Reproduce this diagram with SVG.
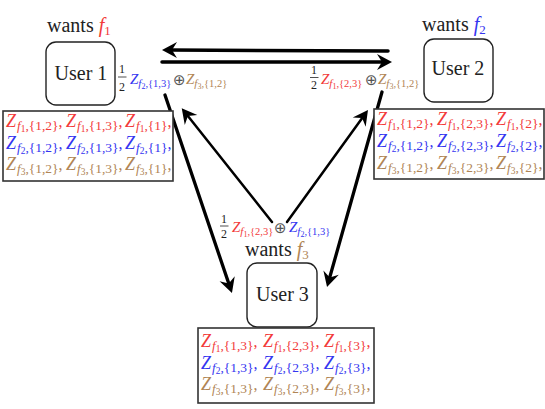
<svg xmlns="http://www.w3.org/2000/svg" width="545" height="409" viewBox="0 0 545 409">
<style>
.t{font-family:"Liberation Serif","DejaVu Serif",serif}
.n{font-size:20px;fill:#222}
.Z{font-style:italic;font-size:18px}
.s{font-size:13.5px}
.si{font-style:italic;font-size:13px}
.ss{font-size:9.5px}
.c{font-size:16px}
.Zl{font-style:italic;font-size:15px}
.sl{font-size:10.5px}
.sil{font-style:italic;font-size:11px}
.ssl{font-size:8px}
.fr{font-size:12px;fill:#222}
.op{font-family:"DejaVu Sans",sans-serif;font-size:15px;fill:#555}
.r{fill:#f23a3a}
.b{fill:#3535f0}
.w{fill:#b08555}
.box{fill:#fff;stroke:#222;stroke-width:1.4}
.tab{fill:#fff;stroke:#333;stroke-width:1.6}
.ar{fill:none;stroke:#000;stroke-linecap:round}
</style>
<defs>
<marker id="ah" viewBox="-16 -9 18 18" refX="-8" refY="0" markerWidth="18" markerHeight="18" markerUnits="userSpaceOnUse" orient="auto" overflow="visible">
<path d="M0,0 L-15,-8 L-10,0 L-15,8 Z" fill="#000"/>
</marker>
</defs>
<rect width="545" height="409" fill="#fff"/>

<g id="connectors">
<line class="ar" x1="388" y1="51" x2="170" y2="50" stroke-width="3.5" marker-end="url(#ah)"/>
<line class="ar" x1="162" y1="62" x2="384" y2="62" stroke-width="3.5" marker-end="url(#ah)"/>
<line class="ar" x1="165" y1="95" x2="229.4" y2="285.4" stroke-width="3.3" marker-end="url(#ah)"/>
<line class="ar" x1="272" y1="222" x2="186.7" y2="114.5" stroke-width="2.5" marker-end="url(#ah)"/>
<line class="ar" x1="287" y1="222" x2="363.3" y2="116.5" stroke-width="2.5" marker-end="url(#ah)"/>
<line class="ar" x1="382" y1="92" x2="329.2" y2="279.3" stroke-width="3.3" marker-end="url(#ah)"/>
</g>

<g id="user1">
<text class="t n" x="47" y="32">wants <tspan class="r" font-style="italic">f</tspan><tspan class="r" font-size="13px" dy="3">1</tspan></text>
<rect class="box" x="46" y="42" width="69" height="63" rx="10"/>
<text class="t n" x="81" y="80" text-anchor="middle">User 1</text>
</g>

<g id="user2">
<text class="t n" x="422" y="31">wants <tspan class="b" font-style="italic">f</tspan><tspan class="b" font-size="13px" dy="3">2</tspan></text>
<rect class="box" x="424" y="39" width="69" height="63" rx="10"/>
<text class="t n" x="458" y="75" text-anchor="middle">User 2</text>
</g>

<g id="user3">
<text class="t n" x="245" y="256">wants <tspan class="w" font-style="italic">f</tspan><tspan class="w" font-size="13px" dy="3">3</tspan></text>
<rect class="box" x="247" y="263" width="70" height="64" rx="10"/>
<text class="t n" x="282.5" y="301" text-anchor="middle">User 3</text>
</g>

<g id="label1">
<text class="t fr" x="122" y="73" text-anchor="middle">1</text>
<line x1="118" y1="77" x2="126.5" y2="77" stroke="#222" stroke-width="0.8"/>
<text class="t fr" x="122" y="91" text-anchor="middle">2</text>
<text class="t b" x="130" y="84"><tspan class="Zl">Z</tspan><tspan class="sil" dy="3">f</tspan><tspan class="ssl" dy="1.5">2</tspan><tspan class="sl" dy="-1.5">,{1,3}</tspan></text>
<text class="op" x="173" y="85">⊕</text>
<text class="t w" x="186" y="84"><tspan class="Zl">Z</tspan><tspan class="sil" dy="3">f</tspan><tspan class="ssl" dy="1.5">3</tspan><tspan class="sl" dy="-1.5">,{1,2}</tspan></text>
</g>

<g id="label2">
<text class="t fr" x="314" y="74" text-anchor="middle">1</text>
<line x1="310" y1="77.5" x2="318.5" y2="77.5" stroke="#222" stroke-width="0.8"/>
<text class="t fr" x="314" y="89" text-anchor="middle">2</text>
<text class="t r" x="321" y="84"><tspan class="Zl">Z</tspan><tspan class="sil" dy="3">f</tspan><tspan class="ssl" dy="1.5">1</tspan><tspan class="sl" dy="-1.5">,{2,3}</tspan></text>
<text class="op" x="365" y="85">⊕</text>
<text class="t w" x="378" y="84"><tspan class="Zl">Z</tspan><tspan class="sil" dy="3">f</tspan><tspan class="ssl" dy="1.5">3</tspan><tspan class="sl" dy="-1.5">,{1,2}</tspan></text>
</g>

<g id="label3">
<text class="t fr" x="224" y="223" text-anchor="middle">1</text>
<line x1="220" y1="226" x2="228.5" y2="226" stroke="#222" stroke-width="0.8"/>
<text class="t fr" x="224" y="238" text-anchor="middle">2</text>
<text class="t r" x="232" y="232"><tspan class="Zl">Z</tspan><tspan class="sil" dy="3">f</tspan><tspan class="ssl" dy="1.5">1</tspan><tspan class="sl" dy="-1.5">,{2,3}</tspan></text>
<text class="op" x="274" y="233">⊕</text>
<text class="t b" x="289" y="232"><tspan class="Zl">Z</tspan><tspan class="sil" dy="3">f</tspan><tspan class="ssl" dy="1.5">2</tspan><tspan class="sl" dy="-1.5">,{1,3}</tspan></text>
</g>

<g id="table1">
<rect class="tab" x="3" y="111" width="170" height="70"/>
<text class="t r" x="6" y="127"><tspan class="Z">Z</tspan><tspan class="si" dx="1" dy="3">f</tspan><tspan class="ss" dy="2">1</tspan><tspan class="s" dy="-2">,{1,2}</tspan><tspan class="c" dy="-3">,</tspan></text>
<text class="t r" x="66" y="127"><tspan class="Z">Z</tspan><tspan class="si" dx="1" dy="3">f</tspan><tspan class="ss" dy="2">1</tspan><tspan class="s" dy="-2">,{1,3}</tspan><tspan class="c" dy="-3">,</tspan></text>
<text class="t r" x="125" y="127"><tspan class="Z">Z</tspan><tspan class="si" dx="1" dy="3">f</tspan><tspan class="ss" dy="2">1</tspan><tspan class="s" dy="-2">,{1}</tspan><tspan class="c" dy="-3">,</tspan></text>
<text class="t b" x="6" y="149"><tspan class="Z">Z</tspan><tspan class="si" dx="1" dy="3">f</tspan><tspan class="ss" dy="2">2</tspan><tspan class="s" dy="-2">,{1,2}</tspan><tspan class="c" dy="-3">,</tspan></text>
<text class="t b" x="66" y="149"><tspan class="Z">Z</tspan><tspan class="si" dx="1" dy="3">f</tspan><tspan class="ss" dy="2">2</tspan><tspan class="s" dy="-2">,{1,3}</tspan><tspan class="c" dy="-3">,</tspan></text>
<text class="t b" x="125" y="149"><tspan class="Z">Z</tspan><tspan class="si" dx="1" dy="3">f</tspan><tspan class="ss" dy="2">2</tspan><tspan class="s" dy="-2">,{1}</tspan><tspan class="c" dy="-3">,</tspan></text>
<text class="t w" x="6" y="170"><tspan class="Z">Z</tspan><tspan class="si" dx="1" dy="3">f</tspan><tspan class="ss" dy="2">3</tspan><tspan class="s" dy="-2">,{1,2}</tspan><tspan class="c" dy="-3">,</tspan></text>
<text class="t w" x="66" y="170"><tspan class="Z">Z</tspan><tspan class="si" dx="1" dy="3">f</tspan><tspan class="ss" dy="2">3</tspan><tspan class="s" dy="-2">,{1,3}</tspan><tspan class="c" dy="-3">,</tspan></text>
<text class="t w" x="125" y="170"><tspan class="Z">Z</tspan><tspan class="si" dx="1" dy="3">f</tspan><tspan class="ss" dy="2">3</tspan><tspan class="s" dy="-2">,{1}</tspan><tspan class="c" dy="-3">,</tspan></text>
</g>

<g id="table2">
<rect class="tab" x="374" y="109" width="170" height="70"/>
<text class="t r" x="377" y="125"><tspan class="Z">Z</tspan><tspan class="si" dx="1" dy="3">f</tspan><tspan class="ss" dy="2">1</tspan><tspan class="s" dy="-2">,{1,2}</tspan><tspan class="c" dy="-3">,</tspan></text>
<text class="t r" x="437" y="125"><tspan class="Z">Z</tspan><tspan class="si" dx="1" dy="3">f</tspan><tspan class="ss" dy="2">1</tspan><tspan class="s" dy="-2">,{2,3}</tspan><tspan class="c" dy="-3">,</tspan></text>
<text class="t r" x="496" y="125"><tspan class="Z">Z</tspan><tspan class="si" dx="1" dy="3">f</tspan><tspan class="ss" dy="2">1</tspan><tspan class="s" dy="-2">,{2}</tspan><tspan class="c" dy="-3">,</tspan></text>
<text class="t b" x="377" y="147"><tspan class="Z">Z</tspan><tspan class="si" dx="1" dy="3">f</tspan><tspan class="ss" dy="2">2</tspan><tspan class="s" dy="-2">,{1,2}</tspan><tspan class="c" dy="-3">,</tspan></text>
<text class="t b" x="437" y="147"><tspan class="Z">Z</tspan><tspan class="si" dx="1" dy="3">f</tspan><tspan class="ss" dy="2">2</tspan><tspan class="s" dy="-2">,{2,3}</tspan><tspan class="c" dy="-3">,</tspan></text>
<text class="t b" x="496" y="147"><tspan class="Z">Z</tspan><tspan class="si" dx="1" dy="3">f</tspan><tspan class="ss" dy="2">2</tspan><tspan class="s" dy="-2">,{2}</tspan><tspan class="c" dy="-3">,</tspan></text>
<text class="t w" x="377" y="169"><tspan class="Z">Z</tspan><tspan class="si" dx="1" dy="3">f</tspan><tspan class="ss" dy="2">3</tspan><tspan class="s" dy="-2">,{1,2}</tspan><tspan class="c" dy="-3">,</tspan></text>
<text class="t w" x="437" y="169"><tspan class="Z">Z</tspan><tspan class="si" dx="1" dy="3">f</tspan><tspan class="ss" dy="2">3</tspan><tspan class="s" dy="-2">,{2,3}</tspan><tspan class="c" dy="-3">,</tspan></text>
<text class="t w" x="496" y="169"><tspan class="Z">Z</tspan><tspan class="si" dx="1" dy="3">f</tspan><tspan class="ss" dy="2">3</tspan><tspan class="s" dy="-2">,{2}</tspan><tspan class="c" dy="-3">,</tspan></text>
</g>

<g id="table3">
<rect class="tab" x="198" y="328" width="176" height="75"/>
<text class="t r" x="201" y="347"><tspan class="Z">Z</tspan><tspan class="si" dx="1" dy="3">f</tspan><tspan class="ss" dy="2">1</tspan><tspan class="s" dy="-2">,{1,3}</tspan><tspan class="c" dy="-3">,</tspan></text>
<text class="t r" x="263" y="347"><tspan class="Z">Z</tspan><tspan class="si" dx="1" dy="3">f</tspan><tspan class="ss" dy="2">1</tspan><tspan class="s" dy="-2">,{2,3}</tspan><tspan class="c" dy="-3">,</tspan></text>
<text class="t r" x="324" y="347"><tspan class="Z">Z</tspan><tspan class="si" dx="1" dy="3">f</tspan><tspan class="ss" dy="2">1</tspan><tspan class="s" dy="-2">,{3}</tspan><tspan class="c" dy="-3">,</tspan></text>
<text class="t b" x="201" y="369"><tspan class="Z">Z</tspan><tspan class="si" dx="1" dy="3">f</tspan><tspan class="ss" dy="2">2</tspan><tspan class="s" dy="-2">,{1,3}</tspan><tspan class="c" dy="-3">,</tspan></text>
<text class="t b" x="263" y="369"><tspan class="Z">Z</tspan><tspan class="si" dx="1" dy="3">f</tspan><tspan class="ss" dy="2">2</tspan><tspan class="s" dy="-2">,{2,3}</tspan><tspan class="c" dy="-3">,</tspan></text>
<text class="t b" x="324" y="369"><tspan class="Z">Z</tspan><tspan class="si" dx="1" dy="3">f</tspan><tspan class="ss" dy="2">2</tspan><tspan class="s" dy="-2">,{3}</tspan><tspan class="c" dy="-3">,</tspan></text>
<text class="t w" x="201" y="390"><tspan class="Z">Z</tspan><tspan class="si" dx="1" dy="3">f</tspan><tspan class="ss" dy="2">3</tspan><tspan class="s" dy="-2">,{1,3}</tspan><tspan class="c" dy="-3">,</tspan></text>
<text class="t w" x="263" y="390"><tspan class="Z">Z</tspan><tspan class="si" dx="1" dy="3">f</tspan><tspan class="ss" dy="2">3</tspan><tspan class="s" dy="-2">,{2,3}</tspan><tspan class="c" dy="-3">,</tspan></text>
<text class="t w" x="324" y="390"><tspan class="Z">Z</tspan><tspan class="si" dx="1" dy="3">f</tspan><tspan class="ss" dy="2">3</tspan><tspan class="s" dy="-2">,{3}</tspan><tspan class="c" dy="-3">,</tspan></text>
</g>
</svg>
